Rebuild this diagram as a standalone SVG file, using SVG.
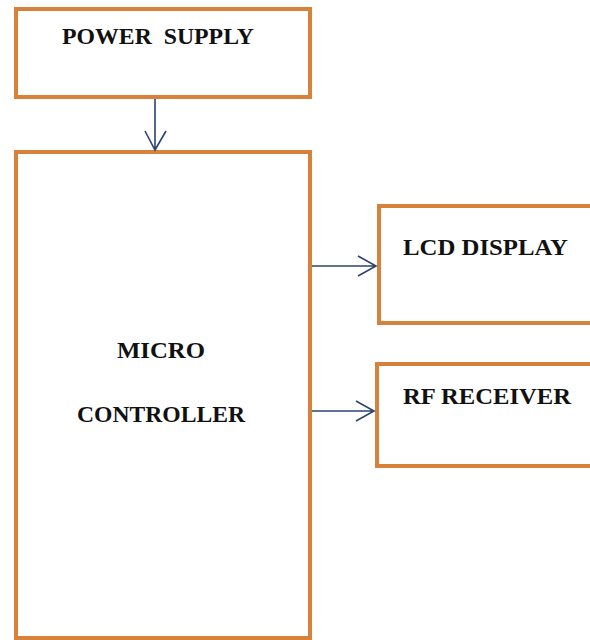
<svg xmlns="http://www.w3.org/2000/svg" width="590" height="640" viewBox="0 0 590 640">
<style>
.box{fill:#ffffff;stroke:#D8813A;stroke-width:4}
.lbl{font-family:"Liberation Serif","Times New Roman",serif;font-weight:bold;font-size:24px;fill:#111111}
.conn{fill:none;stroke:#2B4470;stroke-width:1.6}
</style>
<rect width="590" height="640" fill="#ffffff"/>
<g id="power-supply">
<rect class="box" x="16" y="9" width="294" height="88"/>
<text class="lbl" x="62" y="44" textLength="192" lengthAdjust="spacingAndGlyphs" xml:space="preserve">POWER  SUPPLY</text>
</g>
<g id="micro-controller">
<rect class="box" x="16" y="152" width="294" height="486"/>
<text class="lbl" x="117" y="358" textLength="88" lengthAdjust="spacingAndGlyphs">MICRO</text>
<text class="lbl" x="77" y="422" textLength="168" lengthAdjust="spacingAndGlyphs">CONTROLLER</text>
</g>
<g id="lcd-display">
<rect class="box" x="379" y="206" width="230" height="117"/>
<text class="lbl" x="403" y="255" textLength="165" lengthAdjust="spacingAndGlyphs">LCD DISPLAY</text>
</g>
<g id="rf-receiver">
<rect class="box" x="377" y="364" width="230" height="102"/>
<text class="lbl" x="403" y="404" textLength="168" lengthAdjust="spacingAndGlyphs">RF RECEIVER</text>
</g>
<g id="connectors">
<path class="conn" d="M155 99 V150 M145 131 L155 150 L166 131"/>
<path class="conn" d="M312 266 H376 M358 256 L376 266 L358 276"/>
<path class="conn" d="M312 411 H374 M356 401 L374 411 L356 421"/>
</g>
</svg>
